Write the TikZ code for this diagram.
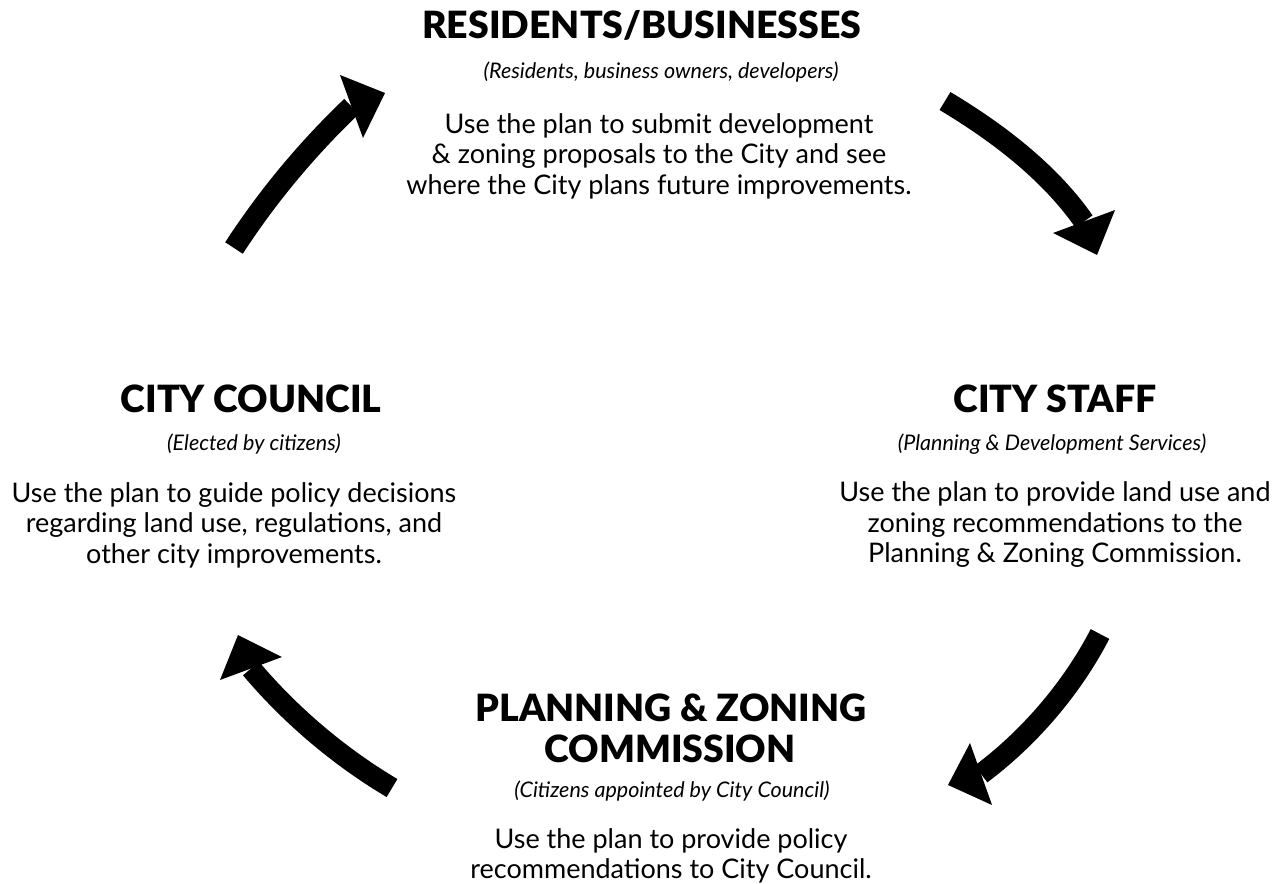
\documentclass[tikz,border=0pt]{standalone}
\usepackage{fontspec}
\setmainfont{Lato}
\newfontfamily\headfont{Lato Black}
\begin{document}
\begin{tikzpicture}[x=1pt,y=-1pt,
  head/.style={font=\fontsize{37.5}{41}\selectfont\headfont, anchor=base, inner sep=0pt},
  subt/.style={font=\fontsize{21.5}{25}\selectfont\itshape, anchor=base, inner sep=0pt},
  body/.style={font=\fontsize{27}{30.5}\selectfont, align=center, anchor=center, inner sep=0pt},
  shaft/.style={line width=21pt, line cap=butt, draw=black},
  tiphead/.style={fill=black},
]
\useasboundingbox (0,0) rectangle (1281,883);

% Residents / Businesses
\node[head] (resH) at (642,39) {RESIDENTS/BUSINESSES};
\node[subt] (resS) at (661,78) {(Residents, business owners, developers)};
\node[body] (resB) at (659,156) {Use the plan to submit development\\ \& zoning proposals to the City and see\\ where the City plans future improvements.};

% City Council
\node[head] (ccH) at (251,412) {CITY COUNCIL};
\node[subt] (ccS) at (254,450) {(Elected by citizens)};
\node[body] (ccB) at (234,525) {Use the plan to guide policy decisions\\ regarding land use, regulations, and\\ other city improvements.};

% City Staff
\node[head] (csH) at (1055,412) {CITY STAFF};
\node[subt] (csS) at (1052,450) {(Planning \& Development Services)};
\node[body] (csB) at (1055,525) {Use the plan to provide land use and\\ zoning recommendations to the\\ Planning \& Zoning Commission.};

% Planning & Zoning Commission
\node[head] (pzH1) at (671,721) {PLANNING \& ZONING};
\node[head] (pzH2) at (670,762) {COMMISSION};
\node[subt] (pzS) at (672,797) {(Citizens appointed by City Council)};
\node[body] (pzB) at (671,856) {Use the plan to provide policy\\ recommendations to City Council.};

% Arrow 1: City Council -> Residents
\coordinate (a1t) at (234,248);
\coordinate (a1c1) at (267.2,196.8);
\coordinate (a1c2) at (307.3,148.6);
\coordinate (a1m) at (351.5,106.5);
\coordinate (a1p) at (340,75);
\coordinate (a1q) at (363,138);
\coordinate (a1tip) at (385,93);
\draw[shaft] (a1t) .. controls (a1c1) and (a1c2) .. (a1m);
\fill[tiphead] (a1p) -- (a1tip) -- (a1q) -- cycle;

% Arrow 2: Residents -> City Staff
\coordinate (a2t) at (945,101);
\coordinate (a2c1) at (997.3,132.4);
\coordinate (a2c2) at (1049,171.5);
\coordinate (a2m) at (1084,221.5);
\coordinate (a2p) at (1053,233);
\coordinate (a2q) at (1115,210);
\coordinate (a2tip) at (1097,255);
\draw[shaft] (a2t) .. controls (a2c1) and (a2c2) .. (a2m);
\fill[tiphead] (a2p) -- (a2tip) -- (a2q) -- cycle;

% Arrow 3: City Staff -> Planning & Zoning
\coordinate (a3t) at (1100,634);
\coordinate (a3c1) at (1072,688);
\coordinate (a3c2) at (1029.8,737.4);
\coordinate (a3m) at (981,774);
\coordinate (a3p) at (970,743);
\coordinate (a3q) at (992,805);
\coordinate (a3tip) at (948,785);
\draw[shaft] (a3t) .. controls (a3c1) and (a3c2) .. (a3m);
\fill[tiphead] (a3p) -- (a3tip) -- (a3q) -- cycle;

% Arrow 4: Planning & Zoning -> City Council
\coordinate (a4t) at (392,788);
\coordinate (a4c1) at (339.5,756.9);
\coordinate (a4c2) at (290.3,715.2);
\coordinate (a4m) at (251,668.5);
\coordinate (a4p) at (220,680);
\coordinate (a4q) at (282,657);
\coordinate (a4tip) at (238,635);
\draw[shaft] (a4t) .. controls (a4c1) and (a4c2) .. (a4m);
\fill[tiphead] (a4p) -- (a4tip) -- (a4q) -- cycle;
\end{tikzpicture}
\end{document}
